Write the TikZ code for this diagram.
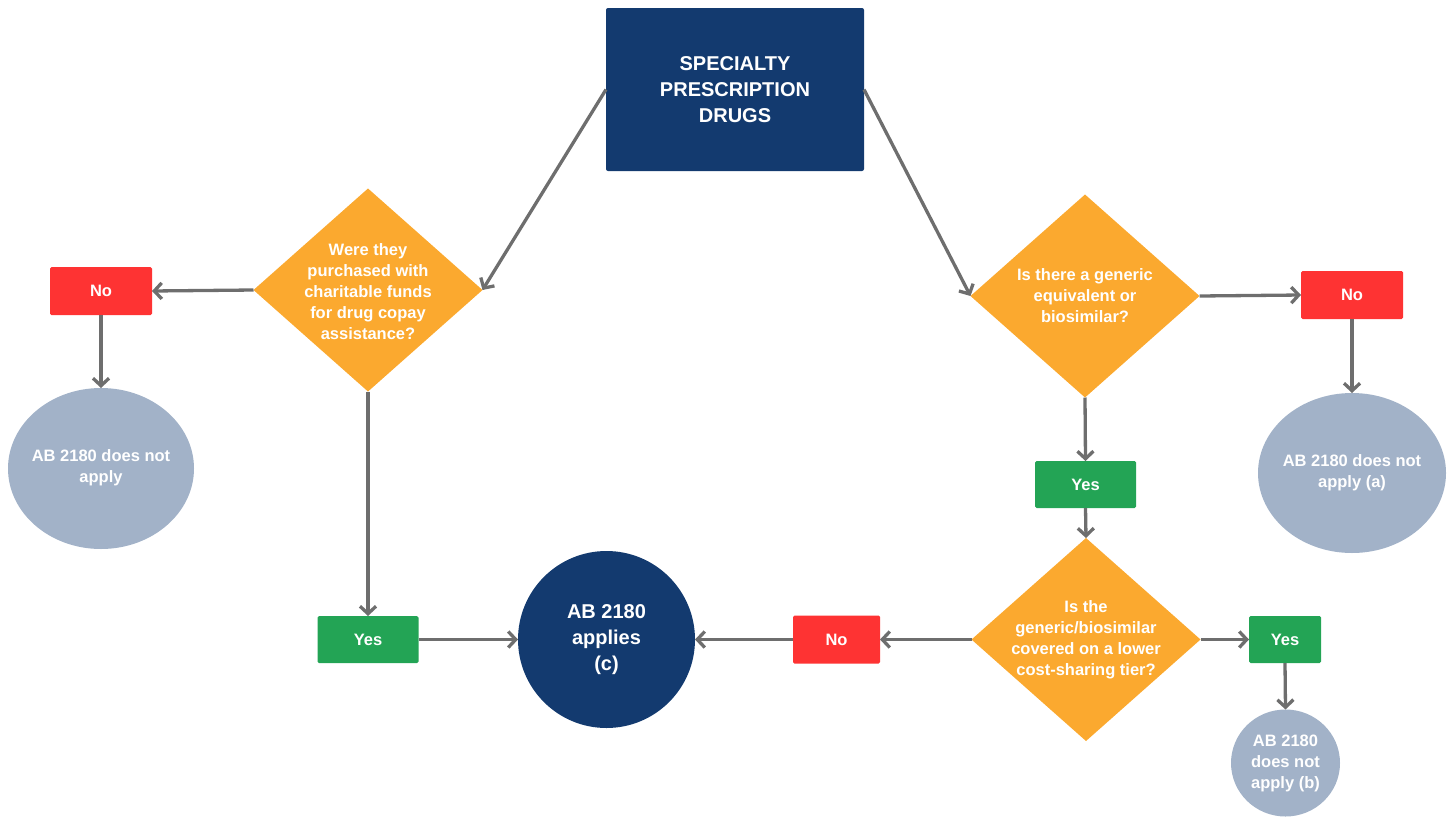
\documentclass[tikz,border=0pt]{standalone}
\usepackage{fontspec}
\setmainfont{Liberation Sans}
\usetikzlibrary{shapes.geometric,arrows.meta}
\definecolor{navy}{HTML}{133A6F}
\definecolor{orng}{HTML}{FBA92F}
\definecolor{redb}{HTML}{FE3333}
\definecolor{grnb}{HTML}{23A455}
\definecolor{grayb}{HTML}{A2B2C8}
\definecolor{arr}{HTML}{6E6E6E}
\tikzset{
  base/.style={inner sep=0pt, outer sep=0pt, text=white, font=\bfseries, align=center},
  topbox/.style={base, fill=navy, rounded corners=2pt, minimum width=258pt, minimum height=163pt, font=\bfseries\fontsize{20}{26}\selectfont},
  diam/.style={base, diamond, fill=orng, minimum width=229pt, minimum height=203pt},
  dtext/.style={base, font=\bfseries\fontsize{16.5}{21}\selectfont},
  nobox/.style={base, fill=redb, rounded corners=1.5pt, minimum width=102pt, minimum height=48pt, font=\bfseries\fontsize{16.5}{21}\selectfont},
  yesbox/.style={base, fill=grnb, rounded corners=1.5pt, minimum width=101pt, minimum height=47pt, font=\bfseries\fontsize{16.5}{21}\selectfont},
  endell/.style={base, ellipse, fill=grayb, font=\bfseries\fontsize{16.5}{21}\selectfont},
  conn/.style={draw=arr, line width=3.3pt, -{Straight Barb[length=7.5pt,width=16pt,line width=3.3pt]}}
}
\begin{document}
\begin{tikzpicture}[x=1pt,y=-1pt]
\useasboundingbox (0,0) rectangle (1453,817);
% nodes
\node[topbox] (top) at (735,89.5) {SPECIALTY\\PRESCRIPTION\\DRUGS};

\node[diam] (d1) at (368,290) {};
\node[dtext] (d1t) at (368,292) {Were they\\purchased with\\charitable funds\\for drug copay\\assistance?};

\node[diam] (d2) at (1085,296) {};
\node[dtext] (d2t) at (1085,296) {Is there a generic\\equivalent or\\biosimilar?};

\node[diam] (d3) at (1086,639.5) {};
\node[dtext] (d3t) at (1086,640) {Is the\\generic/biosimilar\\covered on a lower\\cost-sharing tier?};

\node[nobox] (no1) at (101,291) {No};
\node[endell, minimum width=186pt, minimum height=161pt] (e1) at (101,468.5) {};
\node[dtext] (e1t) at (101,468) {AB 2180 does not\\apply};

\node[nobox] (no2) at (1352,295) {No};
\node[endell, minimum width=188pt, minimum height=160pt] (e2) at (1352,473) {};
\node[dtext] (e2t) at (1352,473) {AB 2180 does not\\apply (a)};

\node[yesbox] (yes2) at (1085.5,484.5) {Yes};

\node[yesbox] (yes1) at (368,639.5) {Yes};
\node[base, circle, fill=navy, minimum width=177pt] (c) at (606.5,639.5) {};
\node[base, font=\bfseries\fontsize{20}{26}\selectfont] (ct) at (606.5,639.5) {AB 2180\\applies\\(c)};

\node[nobox, minimum width=87pt] (no3) at (836.5,639.5) {No};

\node[yesbox, minimum width=72pt] (yes3) at (1285,639.5) {Yes};
\node[endell, minimum width=109pt, minimum height=107pt] (e3) at (1285.5,763) {};
\node[dtext] (e3t) at (1285.5,763) {AB 2180\\does not\\apply (b)};

% connectors
\draw[conn] (top.west) -- (d1.east);
\draw[conn] (top.east) -- (d2.west);
\draw[conn] (d1.west) -- (no1.east);
\draw[conn] (no1.south) -- (e1.north);
\draw[conn] (d1.south) -- (yes1.north);
\draw[conn] (yes1.east) -- (c.west);
\draw[conn] (d2.east) -- (no2.west);
\draw[conn] (no2.south) -- (e2.north);
\draw[conn] (d2.south) -- (yes2.north);
\draw[conn] (yes2.south) -- (d3.north);
\draw[conn] (d3.west) -- (no3.east);
\draw[conn] (no3.west) -- (c.east);
\draw[conn] (d3.east) -- (yes3.west);
\draw[conn] (yes3.south) -- (e3.north);
\end{tikzpicture}
\end{document}
